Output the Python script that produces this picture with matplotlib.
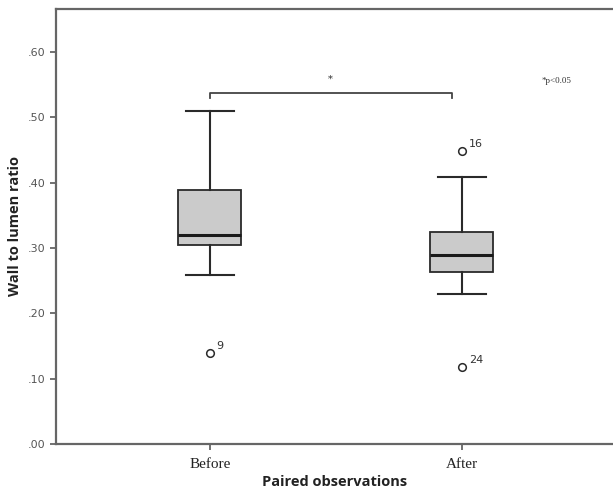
import matplotlib
matplotlib.use("Agg")
import matplotlib.pyplot as plt
import numpy as np

# Data
categories = ["Before", "After"]
q1 = [0.305, 0.264]
median = [0.320, 0.290]
q3 = [0.389, 0.324]
whislo = [0.259, 0.229]
whishi = [0.510, 0.409]
outliers = [[0.139], [0.449, 0.118]]
outlier_labels = [["9"], ["16", "24"]]
yticks = [0.0, 0.1, 0.2, 0.3, 0.4, 0.5, 0.6]
ytick_labels = [".00", ".10", ".20", ".30", ".40", ".50", ".60"]
bracket_y = 0.537
bracket_drop = 0.008

fig = plt.figure(figsize=(6.13, 4.92), dpi=100)
ax = fig.add_axes([56/613, 1-444/492, 1.0 - 56/613, (444-9)/492])

positions = [1, 2]
stats = []
for i in range(2):
    stats.append(dict(med=median[i], q1=q1[i], q3=q3[i], whislo=whislo[i],
                      whishi=whishi[i], fliers=[], label=categories[i]))

ax.bxp(stats, positions=positions, widths=0.25, patch_artist=True,
       boxprops=dict(facecolor="#cbcbcb", edgecolor="#2a2a2a", linewidth=1.3),
       medianprops=dict(color="#1a1a1a", linewidth=2.2),
       whiskerprops=dict(color="#2a2a2a", linewidth=1.5),
       capprops=dict(color="#2a2a2a", linewidth=1.5),
       capwidths=0.19, showfliers=False)

for i, pos in enumerate(positions):
    for v, lab in zip(outliers[i], outlier_labels[i]):
        ax.plot([pos], [v], marker="o", markersize=5.5, markerfacecolor="white",
                markeredgecolor="#2a2a2a", markeredgewidth=1.1, linestyle="none")
        ax.annotate(lab, (pos, v), xytext=(5, 3), textcoords="offset points",
                    fontsize=8, color="#333333", family="DejaVu Sans")

# significance bracket
x0, x1 = positions[0], positions[1] - 0.04
ax.plot([x0, x0, x1, x1], [bracket_y - bracket_drop, bracket_y, bracket_y, bracket_y - bracket_drop],
        color="#444444", linewidth=1.3)
ax.text((x0 + x1) / 2 + 0.0, bracket_y + 0.015, "*", ha="center", va="bottom",
        fontsize=7, color="#333333", family="DejaVu Serif")
ax.text(2.376, 0.556, "*p<0.05", ha="center", va="center", fontsize=6.5,
        color="#333333", family="Liberation Serif")

ax.set_xlim(0.39, 2.6)
ax.set_ylim(0, 0.666)
ax.set_yticks(yticks)
ax.set_yticklabels(ytick_labels, family="DejaVu Sans", fontsize=8, color="#555555")
ax.set_xticks(positions)
ax.set_xticklabels(categories, family="Liberation Serif", fontsize=11, color="#222222")

for s in ["right"]:
    ax.spines[s].set_visible(False)
for s in ["left", "bottom", "top"]:
    ax.spines[s].set_color("#666666")
    ax.spines[s].set_linewidth(1.6)
ax.tick_params(axis="both", direction="out", length=4, width=1.3, color="#666666")
ax.tick_params(axis="x", pad=6)

ax.set_ylabel("Wall to lumen ratio", fontsize=10.5, fontweight="bold",
              family="Open Sans", color="#222222", labelpad=4)
ax.set_xlabel("Paired observations", fontsize=10.5, fontweight="bold",
              family="Open Sans", color="#222222", labelpad=3)

fig.savefig("out.png", dpi=100, facecolor="white")
